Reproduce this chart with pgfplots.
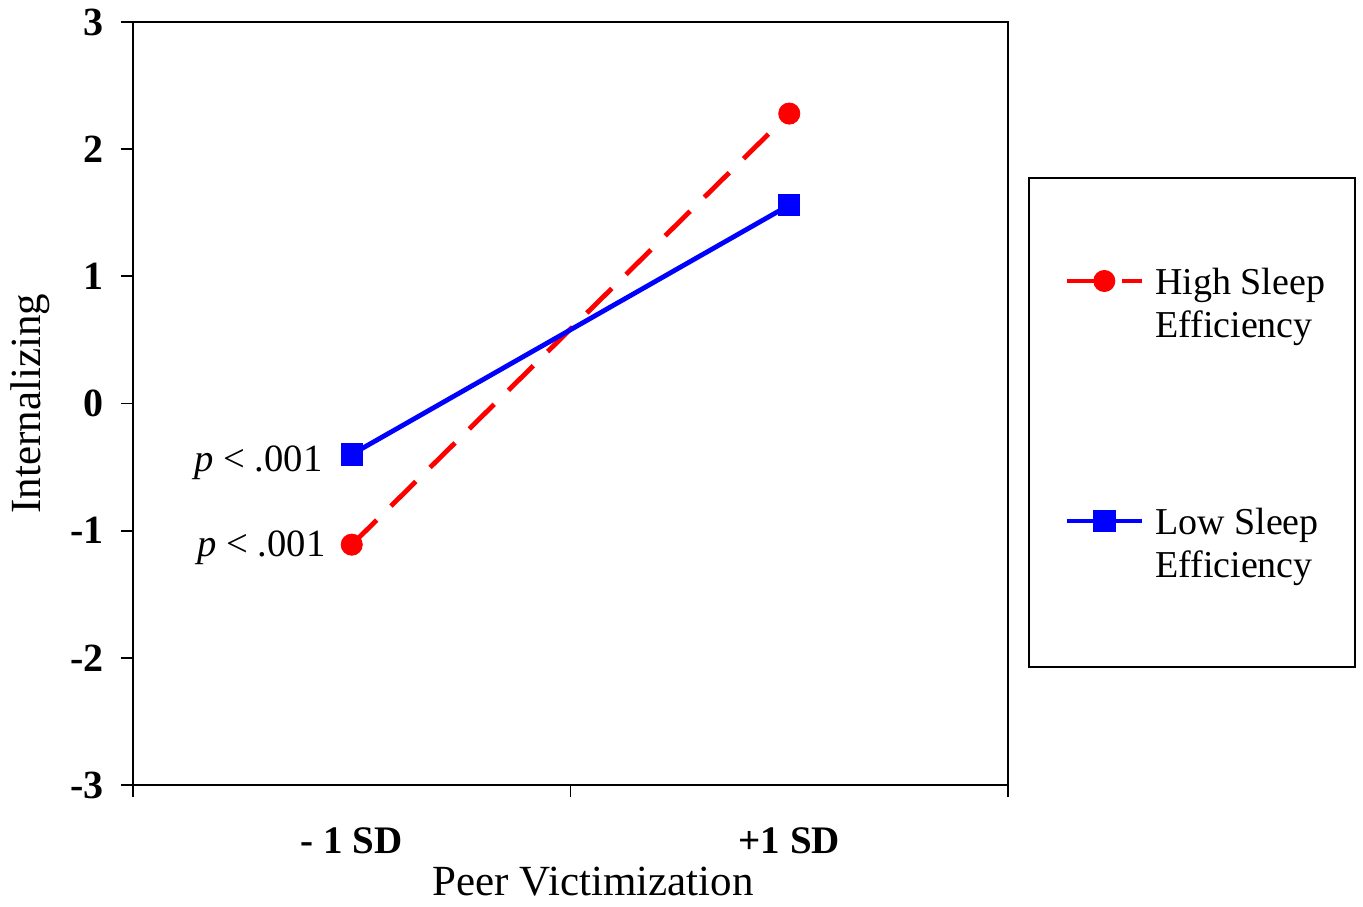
\documentclass[border=0pt]{standalone}
\usepackage{pgfplots}
\pgfplotsset{compat=1.18}
\usepackage{fontspec}
\setmainfont{Liberation Serif}
\definecolor{pr}{RGB}{255,0,0}
\definecolor{pb}{RGB}{0,0,255}
\begin{document}
\begin{tikzpicture}
\path[use as bounding box] (0,0) rectangle (681.5pt,-453pt);
\begin{axis}[
  at={(66.5pt,-11pt)}, anchor=north west,
  scale only axis, width=437.5pt, height=381.5pt,
  clip=false,
  xmin=0, xmax=2, ymin=-3, ymax=3,
  xtick={0,1,2}, xticklabels={},
  extra x ticks={0.5,1.5},
  extra x tick labels={\textbf{- 1 SD},\textbf{+1 SD}},
  extra x tick style={major tick length=0pt, tick label style={anchor=base, yshift=-34pt}},
  ytick={-3,-2,-1,0,1,2,3},
  yticklabels={-3,-2,-1,0,1,2,3},
  yticklabel style={font=\fontsize{20}{22}\selectfont\bfseries, xshift=-5pt},
  xticklabel style={font=\fontsize{19.5}{22}\selectfont},
  tick pos=left, tick align=outside, major tick length=6pt,
  tick style={black, line width=0.9pt},
  axis line style={line width=1pt},
  xlabel={Peer Victimization},
  ylabel={Internalizing},
  label style={font=\fontsize{21.5}{24}\selectfont},
  xlabel style={at={(axis description cs:0.5257,-0.1442)}, anchor=base, inner sep=0pt},
  ylabel style={at={(axis description cs:-0.1177,0.5)}, anchor=center},
  legend cell align=left,
  legend image code/.code={\draw[mark repeat=2,mark phase=2,#1] plot coordinates {(0pt,0pt) (18.75pt,0pt) (37.5pt,0pt)};},
  legend style={at={(1.024,0.7955)}, anchor=north west, draw=none, fill=none,
    font=\fontsize{19}{21.5}\selectfont, inner xsep=17.5pt, inner ysep=41pt, row sep=99.5pt, column sep=3.5pt},
]
\draw[line width=0.75pt, black] (rel axis cs:1.024,0.7955) rectangle (rel axis cs:1.3966,0.1547);
\addplot[color=pr, line width=2.4pt, dash pattern=on 17.5pt off 10pt, mark=*, mark size=5.3pt, mark options={solid, fill=pr, line width=0.4pt}]
  coordinates {(0.5,-1.11) (1.5,2.28)};
\addlegendentry{\begin{tabular}[t]{@{}l@{}}High Sleep\\Efficiency\end{tabular}}
\addplot[color=pb, line width=2.4pt, mark=square*, mark size=5.3pt, mark options={solid, fill=pb, line width=0.4pt}]
  coordinates {(0.5,-0.40) (1.5,1.56)};
\addlegendentry{\begin{tabular}[t]{@{}l@{}}Low Sleep\\Efficiency\end{tabular}}
\node[anchor=base east, inner sep=0pt, font=\fontsize{19.3}{22}\selectfont] at (axis cs:0.5,-0.40) [xshift=-14.5pt, yshift=-8.5pt] {\textit{p} < .001};
\node[anchor=base east, inner sep=0pt, font=\fontsize{19.3}{22}\selectfont] at (axis cs:0.5,-1.11) [xshift=-13pt, yshift=-6pt] {\textit{p} < .001};
\end{axis}
\end{tikzpicture}
\end{document}
